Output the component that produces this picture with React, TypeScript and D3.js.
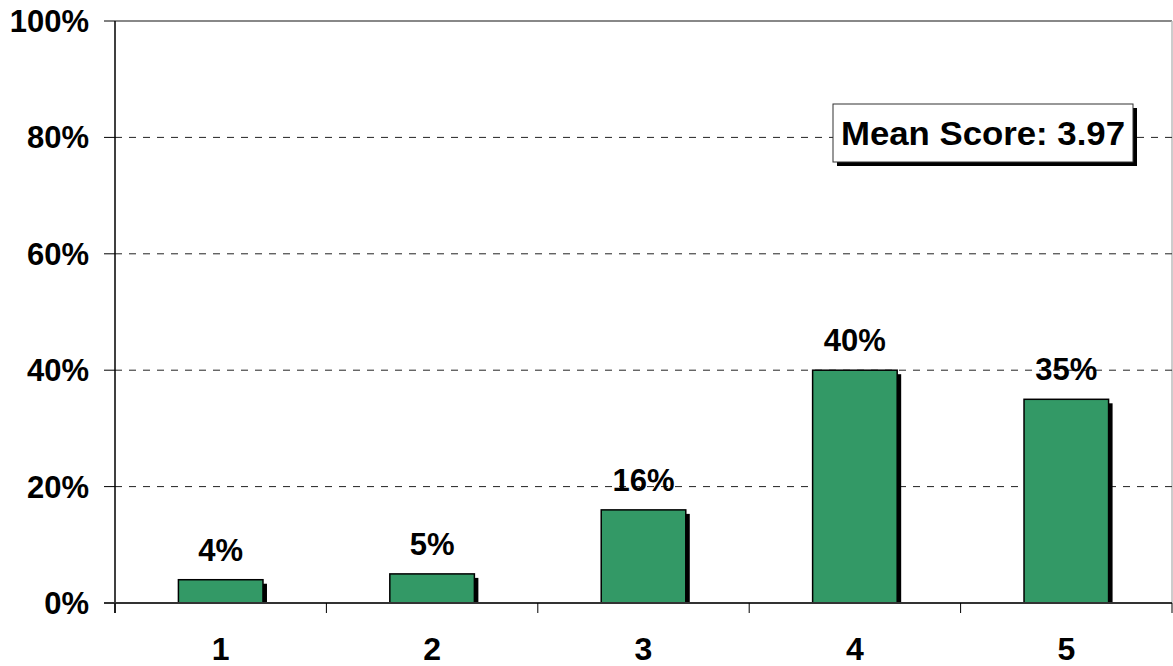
import { scaleBand, scaleLinear } from "d3";

const categories = ["1", "2", "3", "4", "5"];
const shares = [4, 5, 16, 40, 35];
const yTicks = [0, 20, 40, 60, 80, 100];
const meanLabel = "Mean Score: 3.97";

export default function App() {
  const width = 1173;
  const height = 666;
  const left = 115;
  const right = 1172;
  const top = 21;
  const bottom = 603;

  const x = scaleBand().domain(categories).range([left, right]);
  const y = scaleLinear().domain([0, 100]).range([bottom, top]);
  const bw = x.bandwidth() * 0.4;
  const font = "'Liberation Sans', Arial, sans-serif";

  return (
    <svg
      width={width}
      height={height}
      style={{ position: "fixed", left: 0, top: 0, background: "#fff" }}
      fontFamily={font}
      fontWeight="bold"
    >
      {/* plot frame */}
      <line x1={left} x2={right} y1={top} y2={top} stroke="#888" strokeWidth={2} />
      <line x1={right} x2={right} y1={top} y2={bottom} stroke="#bbb" strokeWidth={1.5} />

      {yTicks.map((t) => (
        <g key={t}>
          {t > 0 && t < 100 ? (
            <line x1={left} x2={right} y1={y(t)} y2={y(t)} stroke="#222" strokeDasharray="7 7" />
          ) : null}
          <line x1={left - 11} x2={left} y1={y(t)} y2={y(t)} stroke="#000" />
          <text x={89} y={y(t) + 11} textAnchor="end" fontSize={31} fill="#000">
            {t}%
          </text>
        </g>
      ))}

      {categories.map((c, i) => {
        const cx = (x(c) ?? 0) + x.bandwidth() / 2;
        const bx = cx - bw / 2;
        const by = y(shares[i]);
        return (
          <g key={c}>
            <rect x={bx + 4} y={by + 4} width={bw} height={bottom - by - 4} fill="#000" />
            <rect x={bx} y={by} width={bw} height={bottom - by} fill="#339966" stroke="#000" strokeWidth={1.5} />
            <text x={cx} y={by - 19} textAnchor="middle" fontSize={31} fill="#000">
              {shares[i]}%
            </text>
            <text x={cx} y={660} textAnchor="middle" fontSize={32} fill="#000">
              {c}
            </text>
          </g>
        );
      })}

      {/* axes */}
      <line x1={left} x2={left} y1={top} y2={bottom + 10} stroke="#000" strokeWidth={1.5} />
      <line x1={left - 11} x2={right} y1={bottom} y2={bottom} stroke="#333" strokeWidth={2} />
      {categories.concat(["end"]).map((c, i) => {
        const tx = left + i * x.bandwidth();
        return <line key={c} x1={tx} x2={tx} y1={bottom} y2={bottom + 10} stroke="#000" />;
      })}

      {/* mean score box */}
      <rect x={837} y={108} width={300} height={58} fill="#000" />
      <rect x={833} y={104} width={300} height={58} fill="#fff" stroke="#333" strokeWidth={1} />
      <text x={983} y={145} textAnchor="middle" fontSize={33} fill="#000" textLength={284} lengthAdjust="spacingAndGlyphs">
        {meanLabel}
      </text>
    </svg>
  );
}
